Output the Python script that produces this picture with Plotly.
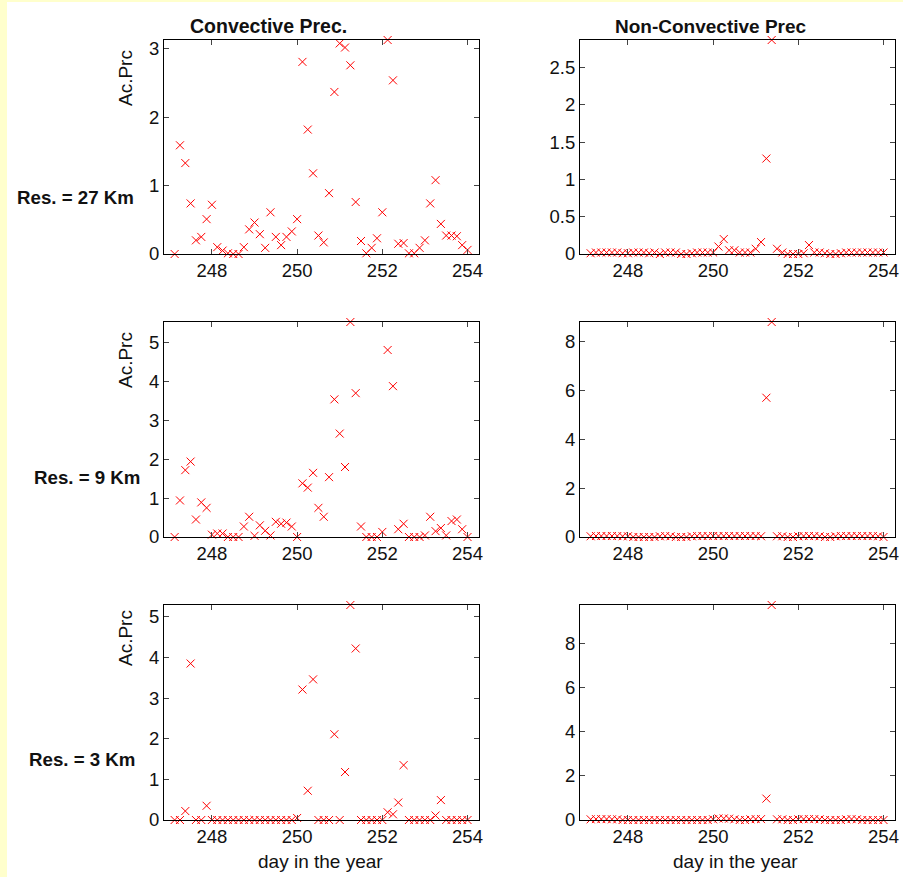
import plotly.graph_objects as go
from plotly.subplots import make_subplots

# ---------------- data ----------------
days = [247.125, 247.25, 247.375, 247.5, 247.625, 247.75, 247.875, 248.0,
        248.125, 248.25, 248.375, 248.5, 248.625, 248.75, 248.875, 249.0,
        249.125, 249.25, 249.375, 249.5, 249.625, 249.75, 249.875, 250.0,
        250.125, 250.25, 250.375, 250.5, 250.625, 250.75, 250.875, 251.0,
        251.125, 251.25, 251.375, 251.5, 251.625, 251.75, 251.875, 252.0,
        252.125, 252.25, 252.375, 252.5, 252.625, 252.75, 252.875, 253.0,
        253.125, 253.25, 253.375, 253.5, 253.625, 253.75, 253.875, 254.0]

conv_27 = [0, 1.59, 1.33, 0.74, 0.20, 0.25, 0.51, 0.72,
           0.10, 0.05, 0.01, 0, 0, 0.10, 0.36, 0.46,
           0.29, 0.09, 0.61, 0.25, 0.13, 0.25, 0.33, 0.51,
           2.81, 1.82, 1.18, 0.27, 0.17, 0.89, 2.37, 3.08,
           3.02, 2.76, 0.76, 0.19, 0.01, 0.09, 0.23, 0.61,
           3.13, 2.54, 0.15, 0.16, 0.01, 0.01, 0.09, 0.20,
           0.74, 1.08, 0.44, 0.27, 0.27, 0.26, 0.13, 0.06]

nonconv_27 = [0.01, 0.02, 0.02, 0.02, 0.02, 0.02, 0.01, 0.01,
              0.02, 0.02, 0.02, 0.01, 0.02, 0.0, 0.02, 0.02,
              0.02, 0.0, 0.0, 0.01, 0.02, 0.02, 0.02, 0.02,
              0.10, 0.20, 0.05, 0.05, 0.02, 0.02, 0.02, 0.07,
              0.16, 1.28, 2.87, 0.07, 0.02, 0.0, 0.0, 0.0,
              0.01, 0.12, 0.02, 0.02, 0.01, 0.0, 0.0, 0.01,
              0.02, 0.02, 0.02, 0.02, 0.02, 0.02, 0.02, 0.02]

conv_9 = [0, 0.94, 1.72, 1.94, 0.45, 0.89, 0.75, 0.06,
          0.09, 0.09, 0, 0, 0, 0.27, 0.52, 0.03,
          0.30, 0.16, 0.04, 0.39, 0.34, 0.37, 0.27, 0,
          1.38, 1.27, 1.65, 0.75, 0.52, 1.54, 3.54, 2.66,
          1.80, 5.53, 3.70, 0.27, 0, 0, 0, 0.13,
          4.81, 3.88, 0.20, 0.34, 0, 0, 0, 0.04,
          0.52, 0.15, 0.23, 0.04, 0.41, 0.45, 0.20, 0]

nonconv_9 = [0.03, 0.04, 0.04, 0.04, 0.04, 0.04, 0.03, 0.03,
             0.0, 0.0, 0.0, 0.0, 0.0, 0.03, 0.04, 0.03,
             0.0, 0.0, 0.0, 0.03, 0.04, 0.04, 0.04, 0.04,
             0.04, 0.04, 0.04, 0.04, 0.04, 0.04, 0.04, 0.04,
             0.03, 5.70, 8.80, 0.03, 0.03, 0.0, 0.0, 0.03,
             0.04, 0.04, 0.04, 0.03, 0.0, 0.0, 0.03, 0.04,
             0.04, 0.04, 0.04, 0.04, 0.04, 0.04, 0.03, 0.0]

conv_3 = [0, 0, 0.22, 3.85, 0, 0, 0.35, 0,
          0, 0, 0, 0, 0, 0, 0, 0,
          0, 0, 0, 0, 0, 0, 0, 0.05,
          3.21, 0.72, 3.46, 0, 0, 0, 2.11, 0,
          1.18, 5.29, 4.22, 0, 0, 0, 0, 0,
          0.19, 0.14, 0.43, 1.35, 0, 0, 0, 0,
          0, 0.11, 0.49, 0, 0, 0, 0, 0]

nonconv_3 = [0.03, 0.04, 0.04, 0.04, 0.03, 0.03, 0.0, 0.0,
             0.0, 0.0, 0.0, 0.0, 0.0, 0.0, 0.0, 0.0,
             0.0, 0.0, 0.0, 0.0, 0.0, 0.0, 0.0, 0.03,
             0.07, 0.07, 0.06, 0.03, 0.0, 0.0, 0.03, 0.04,
             0.04, 0.97, 9.75, 0.03, 0.03, 0.0, 0.0, 0.03,
             0.04, 0.04, 0.04, 0.03, 0.0, 0.0, 0.0, 0.0,
             0.03, 0.04, 0.03, 0.0, 0.0, 0.0, 0.0, 0.0]

x_ticks = [248, 250, 252, 254]
col_titles = ["Convective Prec.", "Non-Convective Prec"]
row_labels = ["Res. = 27 Km", "Res. = 9 Km", "Res. = 3 Km"]
y_label = "Ac.Prc"
x_label = "day in the year"

series = [[conv_27, nonconv_27], [conv_9, nonconv_9], [conv_3, nonconv_3]]
y_ticks = [[[0, 1, 2, 3], [0, 0.5, 1, 1.5, 2, 2.5]],
           [[0, 1, 2, 3, 4, 5], [0, 2, 4, 6, 8]],
           [[0, 1, 2, 3, 4, 5], [0, 2, 4, 6, 8]]]
y_tops = [[3.13, 2.87], [5.53, 8.8], [5.29, 9.75]]

# ---------------- layout geometry (pixels) ----------------
W, H = 903, 877
col_px = [(164, 479), (580, 895)]
row_px = [(40, 254), (322, 537), (605, 820)]

FONT = "Liberation Sans, Arial, sans-serif"
TICK = dict(family=FONT, size=18.5, color="#111")
fig = make_subplots(rows=3, cols=2)

for r in range(3):
    for c in range(2):
        fig.add_trace(go.Scatter(
            x=days, y=series[r][c], mode="markers", cliponaxis=False,
            marker=dict(symbol="x-thin", size=8, color="#ff0000",
                        line=dict(width=1, color="#ff0000")),
            showlegend=False, hoverinfo="x+y"), row=r + 1, col=c + 1)
        x0, x1 = col_px[c]
        y0, y1 = row_px[r]
        fig.update_xaxes(domain=[x0 / W, x1 / W], range=[246.875, 254.27],
                         tickvals=x_ticks, ticks="inside", ticklen=5,
                         showline=True, linecolor="black", linewidth=1,
                         mirror="allticks", showgrid=False, zeroline=False,
                         automargin=False,
                         tickfont=TICK, row=r + 1, col=c + 1)
        fig.update_yaxes(domain=[1 - y1 / H, 1 - y0 / H],
                         range=[0, y_tops[r][c]],
                         tickvals=y_ticks[r][c], ticks="inside", ticklen=5,
                         showline=True, linecolor="black", linewidth=1,
                         mirror="allticks", showgrid=False, zeroline=False,
                         automargin=False,
                         tickfont=TICK, row=r + 1, col=c + 1)

ann = []
def add_text(txt, xp, yp, size=18, bold=False, xanchor="center", angle=0):
    ann.append(dict(text=("<b>%s</b>" % txt) if bold else txt,
                    x=xp / W, y=1 - yp / H, xref="paper", yref="paper",
                    xanchor=xanchor, yanchor="middle", showarrow=False,
                    textangle=angle,
                    font=dict(family=FONT, size=size, color="#111")))

add_text(col_titles[0], 268, 26, size=19.5, bold=True)
add_text(col_titles[1], 711, 26, size=19, bold=True)
for r, (lab, xr, yc) in enumerate(zip(row_labels, [136, 142, 137], [198, 477, 759])):
    add_text(lab, xr, yc, size=18.7, bold=True, xanchor="right")
for yc in [78, 360, 638]:
    add_text(y_label, 125, yc, size=19, angle=-90)
add_text(x_label, 320, 861, size=19)
add_text(x_label, 735, 861, size=19)

YEL = "#FFFFCC"
fig.update_layout(
    width=W, height=H, margin=dict(l=0, r=0, t=0, b=0, pad=0),
    paper_bgcolor="white", plot_bgcolor="white",
    annotations=ann,
    shapes=[dict(type="rect", xref="paper", yref="paper",
                 x0=0, x1=7 / W, y0=0, y1=1,
                 fillcolor=YEL, line=dict(width=0), layer="below"),
            dict(type="rect", xref="paper", yref="paper",
                 x0=0, x1=1, y0=1 - 2 / H, y1=1,
                 fillcolor=YEL, line=dict(width=0), layer="below")],
)

fig.write_html("out.html", config={"displayModeBar": False},
               post_script="document.body.style.margin='0';"
                           "document.body.style.overflow='hidden';")
